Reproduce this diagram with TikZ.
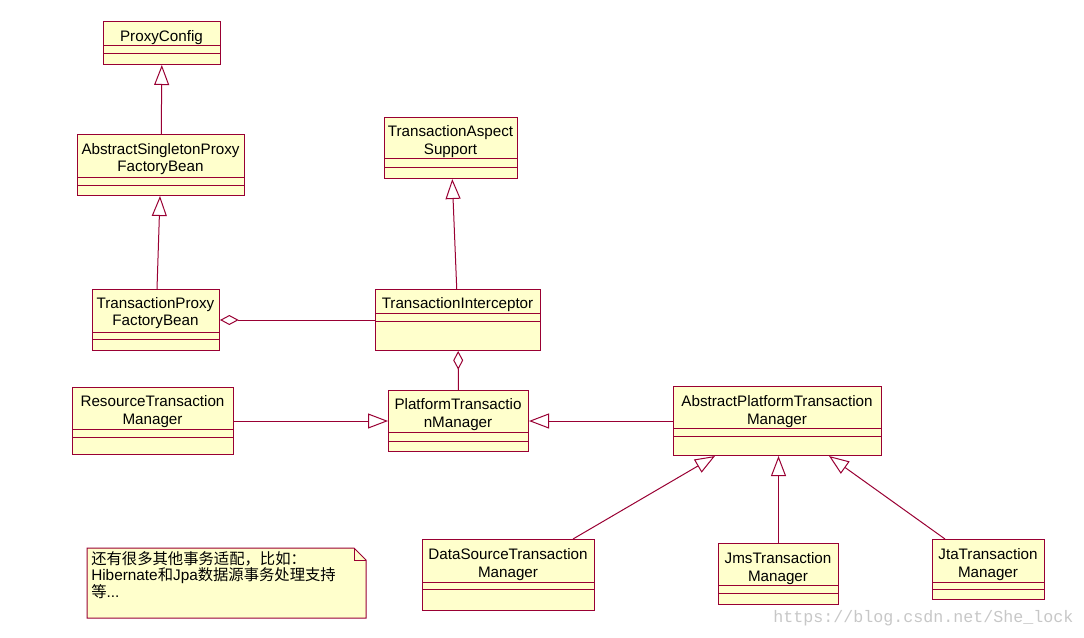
\documentclass[tikz,border=0pt]{standalone}
\usepackage{fontspec}
\setmainfont{Liberation Sans}
\newfontfamily\cjk{Noto Sans CJK SC}
\newfontfamily\wmfont{Liberation Mono}
\usetikzlibrary{arrows.meta}
\definecolor{umlred}{RGB}{153,0,51}
\definecolor{umlfill}{RGB}{255,255,204}

\begin{document}
\begin{tikzpicture}[x=0.75pt,y=-0.75pt]
	\tikzstyle{cls} = [rectangle, draw=umlred, fill=umlfill, line width=0.75pt, inner sep=0, anchor=north west]
	\tikzstyle{clsname} = [align=center, inner sep=0, font=\fontsize{11.4}{13.3}\selectfont]
	\tikzstyle{clsline} = [draw=umlred, line width=0.75pt]
	\tikzstyle{inherit} = [clsline, -{Triangle[open, length=15pt, width=11.25pt]}]
	\tikzstyle{aggreg} = [clsline, -{Diamond[open, length=14pt, width=7.5pt]}]
	\useasboundingbox (0,0) rectangle (1084,638);
	% classes
	\node [cls, minimum width=87.75pt, minimum height=32.25pt] (proxyconfig) at (103,21) {};
	\node [clsname] (proxyconfig-name) at (161.5,37.8) {ProxyConfig};
	\draw [clsline] (103,46) -- +(117,0) (103,54) -- +(117,0);
	\node [cls, minimum width=125.25pt, minimum height=45.75pt] (aspfb) at (77,134) {};
	\node [clsname] (aspfb-name) at (160.5,159.2) {AbstractSingletonProxy\\FactoryBean};
	\draw [clsline] (77,177) -- +(167,0) (77,185) -- +(167,0);
	\node [cls, minimum width=95.25pt, minimum height=45.75pt] (tpfb) at (92,289) {};
	\node [clsname] (tpfb-name) at (155.5,313.2) {TransactionProxy\\FactoryBean};
	\draw [clsline] (92,332) -- +(127,0) (92,339) -- +(127,0);
	\node [cls, minimum width=123.75pt, minimum height=45.75pt] (interceptor) at (375,289) {};
	\node [clsname] (interceptor-name) at (457.5,304.4) {TransactionInterceptor};
	\draw [clsline] (375,313) -- +(165,0) (375,321) -- +(165,0);
	\node [cls, minimum width=99.75pt, minimum height=45.75pt] (aspect) at (384,117) {};
	\node [clsname] (aspect-name) at (450.5,141.5) {TransactionAspect\\Support};
	\draw [clsline] (384,159) -- +(133,0) (384,167) -- +(133,0);
	\node [cls, minimum width=120.75pt, minimum height=50.25pt] (resource) at (72,387) {};
	\node [clsname] (resource-name) at (152.5,411.5) {ResourceTransaction\\Manager};
	\draw [clsline] (72,429) -- +(161,0) (72,437) -- +(161,0);
	\node [cls, minimum width=105pt, minimum height=45.75pt] (platform) at (388,390) {};
	\node [clsname] (platform-name) at (458,414.8) {PlatformTransactio\\nManager};
	\draw [clsline] (388,432) -- +(140,0) (388,441) -- +(140,0);
	\node [cls, minimum width=156pt, minimum height=51.75pt] (abstractpf) at (673,386) {};
	\node [clsname] (abstractpf-name) at (777,411.5) {AbstractPlatformTransaction\\Manager};
	\draw [clsline] (673,428) -- +(208,0) (673,436) -- +(208,0);
	\node [cls, minimum width=129pt, minimum height=53.25pt] (datasource) at (422,539) {};
	\node [clsname] (datasource-name) at (508,564.2) {DataSourceTransaction\\Manager};
	\draw [clsline] (422,582) -- +(172,0) (422,589) -- +(172,0);
	\node [cls, minimum width=90pt, minimum height=45.75pt] (jms) at (718,543) {};
	\node [clsname] (jms-name) at (778,568.9) {JmsTransaction\\Manager};
	\draw [clsline] (718,585) -- +(120,0) (718,593) -- +(120,0);
	\node [cls, minimum width=84pt, minimum height=45pt] (jta) at (932,539) {};
	\node [clsname] (jta-name) at (988,564.2) {JtaTransaction\\Manager};
	\draw [clsline] (932,582) -- +(112,0) (932,589) -- +(112,0);
	% note
	\draw [clsline, fill=umlfill] (87,548) -- (354,548) -- (366,560) -- (366,618) -- (87,618) -- cycle;
	\draw [clsline] (354,548) -- (354,560) -- (366,560);
	\node [anchor=north west, inner sep=0, align=left, font=\fontsize{11.5}{11.7}\selectfont] (note) at (91,551.5)
		{{\cjk 还有很多其他事务适配，比如：}\\Hibernate{\cjk 和}Jpa{\cjk 数据源事务处理支持}\\{\cjk 等}...};
	% connectors
	\draw [inherit] (aspfb) -- (proxyconfig);
	\draw [inherit] (tpfb) -- (aspfb);
	\draw [inherit] (interceptor) -- (aspect);
	\draw [aggreg] (interceptor) -- (tpfb);
	\draw [aggreg] (platform) -- (interceptor);
	\draw [inherit] (resource) -- (platform);
	\draw [inherit] (abstractpf) -- (platform);
	\draw [inherit] ([xshift=-16.5pt]datasource.north east) -- ([xshift=31.5pt]abstractpf.south west);
	\draw [inherit] (jms.north) -- (jms.north |- abstractpf.south);
	\draw [inherit] ([xshift=9.75pt]jta.north west) -- ([xshift=-39.75pt]abstractpf.south east);
	\node [anchor=base west, inner sep=0, text=black!22, font=\wmfont\fontsize{12.5}{14}\selectfont] (watermark) at (773,622) {https://blog.csdn.net/She\_lock};
\end{tikzpicture}
\end{document}
